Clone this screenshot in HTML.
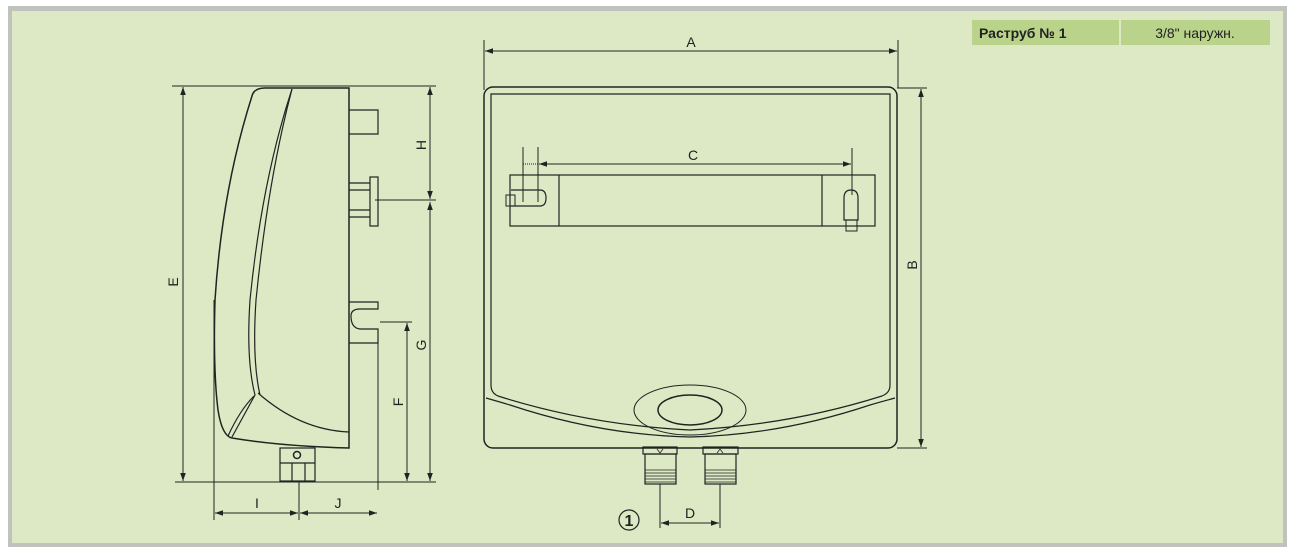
<!DOCTYPE html>
<html><head><meta charset="utf-8"><style>
html,body{margin:0;padding:0;background:#fff;width:1297px;height:553px;overflow:hidden}
svg{display:block}
text{font-family:"Liberation Sans",sans-serif;fill:#222}
</style></head><body>
<svg width="1297" height="553" viewBox="0 0 1297 553" xmlns="http://www.w3.org/2000/svg">
<defs>
<marker id="ar" viewBox="0 0 10 10" refX="10" refY="5" markerWidth="8" markerHeight="8" orient="auto-start-reverse" markerUnits="userSpaceOnUse"><path d="M0,1.5 L10,5 L0,8.5z" fill="#222"/></marker>
</defs>
<rect x="8" y="6" width="1279" height="541" fill="#bfc2bd"/>
<rect x="12" y="11" width="1271" height="532" fill="#dce9c4"/>
<!-- table -->
<rect x="972" y="20" width="147" height="25" fill="#b9d48a"/>
<rect x="1121" y="20" width="149" height="25" fill="#b9d48a"/>
<text x="979" y="38" font-size="14" font-weight="bold" fill="#222">Раструб № 1</text>
<text x="1195" y="38" font-size="14" text-anchor="middle">3/8" наружн.</text>

<g stroke="#222" fill="none" stroke-width="1.2">
<!-- SIDE VIEW -->
<line x1="172" y1="86" x2="436" y2="86" stroke-width="1"/>
<line x1="175" y1="482" x2="436" y2="482" stroke-width="1"/>
<line x1="183" y1="87" x2="183" y2="481" stroke-width="1" marker-start="url(#ar)" marker-end="url(#ar)"/>
<path d="M349,88 L265,88 Q254,88 252,96 Q222,190 215,300 Q213,370 218,410 Q222,436 232,438 Q280,446 349,448 Z" stroke-width="1.5"/>
<path d="M292,89 Q262,180 250,300 Q246,360 255,395 L232,437" />
<path d="M292,89 Q268,180 256,300 Q252,360 260,395"/>
<path d="M258,393 Q300,430 349,432"/>
<path d="M254,396 Q240,410 228,436"/>
<!-- protrusions -->
<path d="M349,110 L378,110 L378,134 L349,134"/>
<path d="M349,183 L370,183 M349,190 L370,190 M349,210 L370,210 M349,217 L370,217"/>
<rect x="370" y="177" width="8" height="49"/>
<path d="M349,302 L378,302 L378,309 L360,309 Q351,309 351,316 Q351,328 360,329 L378,329 L378,343 L349,343"/>
<line x1="378" y1="343" x2="378" y2="490" stroke-width="1"/>
<line x1="214" y1="300" x2="214" y2="520" stroke-width="1"/>
<line x1="299" y1="481" x2="299" y2="520" stroke-width="1"/>
<!-- bottom fitting -->
<rect x="280" y="448" width="35" height="33"/>
<line x1="292" y1="463" x2="292" y2="481"/><line x1="305" y1="463" x2="305" y2="481"/>
<line x1="280" y1="463" x2="315" y2="463"/>
<circle cx="297" cy="455" r="3.5" stroke-width="1.5"/>
<!-- dims I J -->
<line x1="215" y1="513" x2="298" y2="513" stroke-width="1" marker-start="url(#ar)" marker-end="url(#ar)"/>
<line x1="300" y1="513" x2="377" y2="513" stroke-width="1" marker-start="url(#ar)" marker-end="url(#ar)"/>
<!-- H G F -->
<line x1="430" y1="87" x2="430" y2="199" stroke-width="1" marker-start="url(#ar)" marker-end="url(#ar)"/>
<line x1="430" y1="202" x2="430" y2="481" stroke-width="1" marker-start="url(#ar)" marker-end="url(#ar)"/>
<line x1="375" y1="200" x2="436" y2="200" stroke-width="1"/>
<line x1="380" y1="322" x2="412" y2="322" stroke-width="1"/>
<line x1="407" y1="323" x2="407" y2="481" stroke-width="1" marker-start="url(#ar)" marker-end="url(#ar)"/>

<!-- FRONT VIEW -->
<line x1="484" y1="40" x2="484" y2="90" stroke-width="1"/>
<line x1="898" y1="40" x2="898" y2="88" stroke-width="1"/>
<line x1="485" y1="51" x2="897" y2="51" stroke-width="1" marker-start="url(#ar)" marker-end="url(#ar)"/>
<rect x="484" y="87" width="413" height="361" rx="9" stroke-width="1.5"/>
<path d="M491,94 L890,94 L890,385 Q890,393 882,396 Q790,425 690,430 Q590,425 498,396 Q491,393 491,385 Z"/>
<path d="M486,398 Q500,402 510,405 Q600,435 690,437 Q780,435 870,405 Q880,402 895,398"/>
<ellipse cx="690" cy="410" rx="56" ry="25" stroke-width="1"/>
<ellipse cx="690" cy="410" rx="32" ry="15" stroke-width="1.5"/>
<!-- bracket -->
<rect x="510" y="175" width="365" height="51"/>
<line x1="559" y1="175" x2="559" y2="226"/><line x1="822" y1="175" x2="822" y2="226"/>
<path d="M511,190 L540,190 Q546,190 546,198 Q546,206 540,206 L511,206"/>
<rect x="506" y="195" width="9" height="11" stroke-width="1"/>
<path d="M844,220 L844,198 Q844,190 851,190 Q858,190 858,198 L858,220 Z"/>
<rect x="846" y="220" width="11" height="11" stroke-width="1"/>
<!-- C -->
<line x1="523" y1="147" x2="523" y2="202" stroke-width="1"/>
<line x1="538" y1="147" x2="538" y2="202" stroke-width="1"/>
<line x1="852" y1="148" x2="852" y2="195" stroke-width="1"/>
<line x1="523" y1="164" x2="538" y2="164" stroke-width="1" stroke-dasharray="1,1"/>
<line x1="539" y1="164" x2="851" y2="164" stroke-width="1" marker-start="url(#ar)" marker-end="url(#ar)"/>
<!-- B -->
<line x1="897" y1="88" x2="927" y2="88" stroke-width="1"/>
<line x1="897" y1="448" x2="927" y2="448" stroke-width="1"/>
<line x1="921" y1="89" x2="921" y2="447" stroke-width="1" marker-start="url(#ar)" marker-end="url(#ar)"/>
<!-- fittings -->
<rect x="643" y="447" width="34" height="7"/>
<rect x="645" y="454" width="31" height="30"/>
<rect x="703" y="447" width="35" height="7"/>
<rect x="705" y="454" width="31" height="30"/>
<g stroke-width="0.8">
<path d="M645,470 H676 M645,473 H676 M645,476 H676 M645,479 H676 M645,482 H676"/>
<path d="M705,470 H736 M705,473 H736 M705,476 H736 M705,479 H736 M705,482 H736"/>
</g>
<path d="M657,449 L660,453 L663,449" stroke-width="0.8"/>
<path d="M717,453 L720,449 L723,453" stroke-width="0.8"/>
<line x1="660" y1="484" x2="660" y2="528" stroke-width="1"/>
<line x1="720" y1="484" x2="720" y2="528" stroke-width="1"/>
<line x1="661" y1="523" x2="719" y2="523" stroke-width="1" marker-start="url(#ar)" marker-end="url(#ar)"/>
<circle cx="629" cy="520" r="10" stroke-width="1.2"/>
</g>
<text x="629" y="526" font-size="16" font-weight="bold" text-anchor="middle">1</text>
<text x="691" y="47" font-size="14" text-anchor="middle">A</text>
<text x="693" y="160" font-size="14" text-anchor="middle">C</text>
<text x="690" y="518" font-size="14" text-anchor="middle">D</text>
<text x="257" y="508" font-size="14" text-anchor="middle">I</text>
<text x="338" y="508" font-size="14" text-anchor="middle">J</text>
<text font-size="14" text-anchor="middle" transform="translate(917,265) rotate(-90)">B</text>
<text font-size="14" text-anchor="middle" transform="translate(178,282) rotate(-90)">E</text>
<text font-size="14" text-anchor="middle" transform="translate(426,145) rotate(-90)">H</text>
<text font-size="14" text-anchor="middle" transform="translate(426,345) rotate(-90)">G</text>
<text font-size="14" text-anchor="middle" transform="translate(403,402) rotate(-90)">F</text>
</svg>
</body></html>
